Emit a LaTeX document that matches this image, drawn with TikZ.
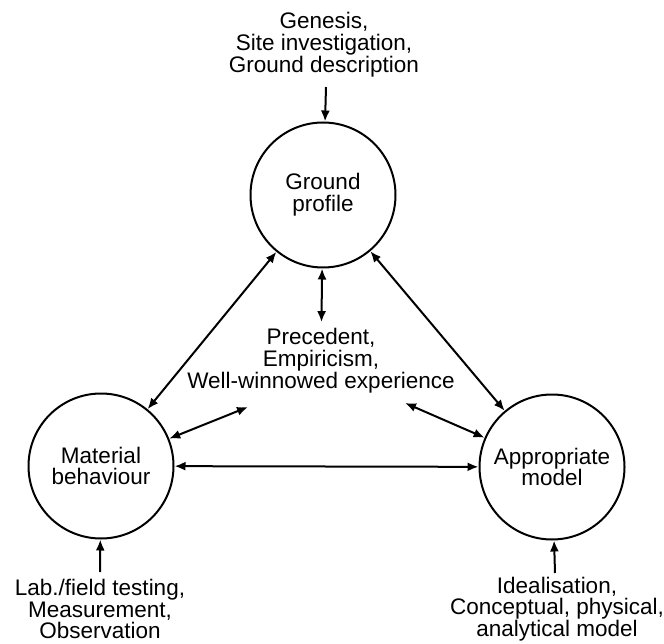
\documentclass[tikz,border=0pt]{standalone}
\usepackage{fontspec}
\setmainfont{Liberation Sans}
\usetikzlibrary{arrows.meta,calc}

\begin{document}
\begin{tikzpicture}[x=1pt,y=-1pt,
        blob/.style={circle, draw, line width=2pt, minimum size=145pt, inner sep=0pt, align=center},
        txt/.style={align=center, inner sep=2pt, font=\fontsize{22.5}{21.7}\selectfont},
        link/.style={line width=2pt, >={Latex[length=11pt,width=9pt]}}]
            \useasboundingbox (0,0) rectangle (664,644);
            % Die drei Kreise
            \node at (323,195) (ground) [blob, txt] {Ground\\profile};
            \node at (101,466) (material) [blob, txt] {Material\\behaviour};
            \node at (552,467) (model) [blob, txt] {Appropriate\\model};
            % Texte
            \node at (324,44.5) (genesis) [txt] {Genesis,\\Site investigation,\\Ground description};
            \node at (321,360.5) (prec) [txt] {Precedent,\\Empiricism,\\Well-winnowed experience};
            \node at (100,609) (lab) [txt] {Lab./field testing,\\Measurement,\\Observation};
            \node at (557,609) (ideal) [txt] {Idealisation,\\Conceptual, physical,\\analytical model};
            \coordinate (precL) at (248,407);
            \coordinate (precR) at (405,403);
            \coordinate (genA) at (326,87);
            \coordinate (labA) at (100,572);
            \coordinate (idealA) at (555,573);
            % Pfeile
            \draw[link, ->] (genA) -- (ground);
            \draw[link, ->] (labA) -- (material);
            \draw[link, ->] (idealA) -- (model);
            \draw[link, <->] (ground) -- (material);
            \draw[link, <->] (ground) -- (model);
            \draw[link, <->] (material) -- (model);
            \draw[link, <->, shorten >=4pt] (ground) -- (prec);
            \draw[link, <->] (precL) -- (material);
            \draw[link, <->] (precR) -- (model);
        \end{tikzpicture}
\end{document}
